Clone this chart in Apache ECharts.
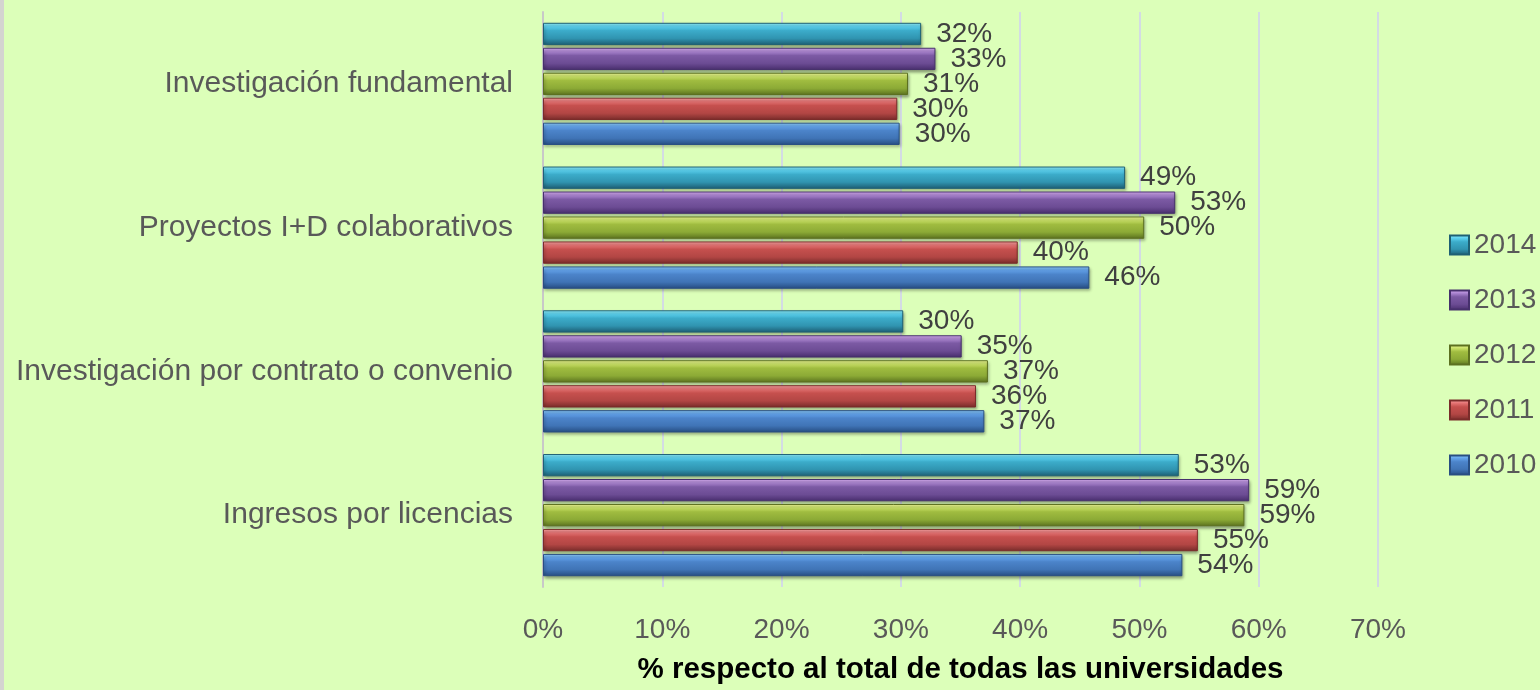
<!DOCTYPE html>
<html>
<head>
<meta charset="utf-8">
<script src="https://cdn.jsdelivr.net/npm/echarts@6/dist/echarts.min.js"></script>
<style>
html,body{margin:0;padding:0;background:#dcffb9;}
#c{width:1540px;height:690px;}
</style>
</head>
<body>
<div id="c"></div>
<script>
const categories = ['Investigación fundamental', 'Proyectos I+D colaborativos', 'Investigación por contrato o convenio', 'Ingresos por licencias'];
const years = ['2014', '2013', '2012', '2011', '2010'];
const v2014 = [31.7, 48.8, 30.2, 53.3];
const v2013 = [32.9, 53.0, 35.1, 59.2];
const v2012 = [30.6, 50.4, 37.3, 58.8];
const v2011 = [29.7, 39.8, 36.3, 54.9];
const v2010 = [29.9, 45.8, 37.0, 53.6];
const xTicks = [0, 10, 20, 30, 40, 50, 60, 70];
const axisTitle = '% respecto al total de todas las universidades';

const values = [v2014, v2013, v2012, v2011, v2010];
const palettes = [
  ['#94f4ff', '#5ad0ee', '#3cacca', '#3094b0', '#24728a', '#1e6074'],
  ['#e0b4fa', '#aa84d0', '#7c5aa4', '#6c4c94', '#56397c', '#46306c'],
  ['#f4ff9a', '#c8e066', '#a0bc40', '#8caa36', '#6e8828', '#5c7020'],
  ['#ffa8a8', '#e47272', '#c6504e', '#b24644', '#8e3634', '#7a2c2a'],
  ['#90d2ff', '#62a2ea', '#4c84ca', '#4074b6', '#305c96', '#284e82']
];
const font = '"Liberation Sans", Arial, sans-serif';

function grad(p) {
  return new echarts.graphic.LinearGradient(0, 0, 0, 1, [
    {offset: 0, color: p[0]},
    {offset: 0.18, color: p[1]},
    {offset: 0.35, color: p[2]},
    {offset: 0.7, color: p[3]},
    {offset: 0.88, color: p[4]},
    {offset: 1, color: p[5]}
  ]);
}

const series = years.map((y, i) => ({
  name: y,
  type: 'bar',
  data: values[i],
  barCategoryGap: '15%',
  barGap: '12%',
  itemStyle: {
    color: grad(palettes[i]),
    borderColor: palettes[i][5],
    borderWidth: 1,
    shadowColor: 'rgba(0,0,0,0.35)',
    shadowBlur: 3,
    shadowOffsetY: 2,
    shadowOffsetX: 1
  },
  label: {
    show: true,
    position: 'right',
    distance: 15,
    fontFamily: font,
    fontSize: 28,
    color: '#404040',
    formatter: p => Math.round(p.value) + '%'
  }
}));

const chart = echarts.init(document.getElementById('c'), null, {renderer: 'canvas'});
chart.setOption({
  backgroundColor: '#dcffb9',
  animation: false,
  graphic: [{type: 'rect', left: 0, top: 0, shape: {width: 4, height: 690}, style: {fill: '#d4d4d0'}}],
  grid: {left: 543, right: 162, top: 12, bottom: 103, containLabel: false, outerBoundsMode: 'none'},
  legend: {
    data: years,
    orient: 'vertical',
    left: 1449,
    top: 231,
    padding: 0,
    icon: 'rect',
    itemWidth: 19,
    itemHeight: 19,
    itemGap: 27,
    textStyle: {fontFamily: font, fontSize: 28, color: '#595959', lineHeight: 28}
  },
  xAxis: {
    type: 'value',
    min: 0,
    max: 70,
    interval: 10,
    name: axisTitle,
    nameLocation: 'middle',
    nameGap: 68,
    nameTextStyle: {fontFamily: font, fontSize: 29.5, fontWeight: 'bold', color: '#000000'},
    axisLine: {show: false},
    axisTick: {show: false},
    axisLabel: {
      fontFamily: font, fontSize: 28, color: '#595959', margin: 29,
      formatter: v => (xTicks.indexOf(v) >= 0 ? v + '%' : '')
    },
    splitLine: {show: true, lineStyle: {color: '#d3dbe4', width: 2}}
  },
  yAxis: {
    type: 'category',
    data: categories,
    inverse: true,
    axisLine: {show: true, lineStyle: {color: '#c8c8c8', width: 2}},
    axisTick: {show: false},
    axisLabel: {fontFamily: font, fontSize: 30, color: '#595959', margin: 30}
  },
  series: series
});
</script>
</body>
</html>
